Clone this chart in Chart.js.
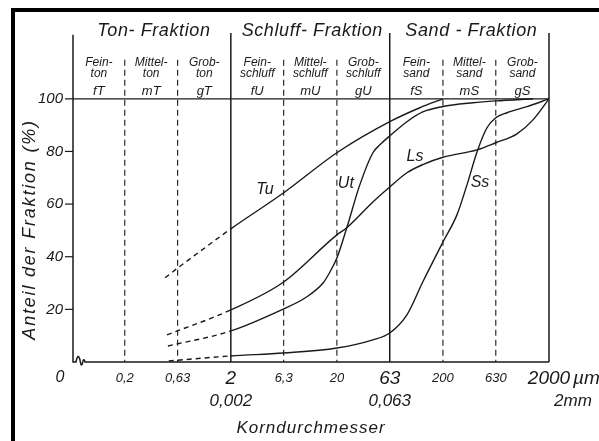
<!DOCTYPE html>
<html>
<head>
<meta charset="utf-8">
<script src="https://cdn.jsdelivr.net/npm/chart.js@4"></script>
<style>
  html, body { margin: 0; padding: 0; background: #fff; }
  #wrap { width: 599px; height: 441px; position: relative; }
</style>
</head>
<body>
<div id="wrap"><canvas id="chart"></canvas></div>
<script>
// grain diameter (µm) and cumulative share (%) for each soil type
const tuSize  = [0.48, 0.63, 1, 2, 6.3, 20, 63, 121, 200];
const tuShare = [32, 35.7, 41.7, 50.6, 64.3, 79.5, 91.3, 96.6, 100];

const utSize  = [0.51, 2, 6.3, 10, 14.8, 17.2, 20, 24.8, 32.9, 43.7, 50.9, 63, 91.5, 129, 196, 384, 630, 1413];
const utShare = [6.1, 11.8, 20.2, 24.3, 30, 34.2, 39.5, 51, 67.3, 79.5, 82.5, 85.9, 91.3, 95, 97, 98.5, 99.2, 100];

const lsSize  = [0.5, 2, 6.3, 20, 24.8, 43.7, 63, 91.5, 129, 200, 419, 630, 998, 1413, 2000];
const lsShare = [10.3, 19.8, 30.4, 48.3, 51, 60.8, 66.5, 71.9, 75, 77.8, 80.6, 83.3, 86.7, 92, 100];

const ssSize  = [0.52, 2, 6.3, 20, 43.7, 63, 91.5, 129, 200, 271, 337, 419, 520, 630, 803, 1239, 2000];
const ssShare = [0.4, 2.3, 3.4, 5.3, 8.4, 11, 17.9, 30.4, 45.6, 55.9, 67.3, 79.8, 89, 92.8, 94.7, 97, 100];

// curve names and where they are written
const curveNames = ['Tu', 'Ut', 'Ls', 'Ss'];
const nameSize   = [4.2, 24.3, 109, 447];
const nameShare  = [65.4, 67.7, 78, 68];

// axes
const xTicks      = [0.2, 0.63, 2, 6.3, 20, 63, 200, 630, 2000];
const xTickLabels = ['0,2', '0,63', '2', '6,3', '20', '63', '200', '630', '2000'];
const xMajor      = [2, 63, 2000];
const xMajorMm    = ['0,002', '0,063', '2mm'];
const yTicks      = [20, 40, 60, 80, 100];

// fractions (main limits) and sub-fractions
const fractionNames = ['Ton- Fraktion', 'Schluff- Fraktion', 'Sand - Fraktion'];
const subNames = [
  ['Fein-', 'ton', 'fT'], ['Mittel-', 'ton', 'mT'], ['Grob-', 'ton', 'gT'],
  ['Fein-', 'schluff', 'fU'], ['Mittel-', 'schluff', 'mU'], ['Grob-', 'schluff', 'gU'],
  ['Fein-', 'sand', 'fS'], ['Mittel-', 'sand', 'mS'], ['Grob-', 'sand', 'gS']
];

const xMin = 0.065, xMax = 2000, yMax = 125;
const ink = '#1a1a1a';
const fam = "'Liberation Sans', Arial, sans-serif";

function curve(label, sizes, shares) {
  return {
    label: label,
    data: sizes.map((s, i) => ({ x: s, y: shares[i] })),
    borderColor: ink,
    borderWidth: 1.4,
    pointRadius: 0,
    fill: false,
    cubicInterpolationMode: 'monotone',
    segment: {
      borderDash: c => c.p1.parsed.x <= 2.01 ? [5, 4] : undefined
    }
  };
}

function spaced(ctx, px) {
  if ('letterSpacing' in ctx) ctx.letterSpacing = px + 'px';
}

const paper = {
  id: 'paper',
  beforeDatasetsDraw(chart) {
    const ctx = chart.ctx;
    const x = chart.scales.x, y = chart.scales.y;
    const left = x.getPixelForValue(xMin);
    const right = x.getPixelForValue(xMax);
    const y0 = y.getPixelForValue(0);

    ctx.save();
    // scan frame
    ctx.fillStyle = '#000';
    ctx.fillRect(11, 8, 599 - 11, 4);
    ctx.fillRect(11, 8, 4, 441 - 8);

    ctx.strokeStyle = ink;
    ctx.lineWidth = 1.5;
    // left axis
    ctx.beginPath();
    ctx.moveTo(left, y.getPixelForValue(124.3));
    ctx.lineTo(left, y0);
    // bottom axis with break mark
    ctx.lineTo(left + 3, y0);
    ctx.quadraticCurveTo(left + 5, y0 - 10, left + 7, y0 - 2);
    ctx.quadraticCurveTo(left + 8, y0 + 6, left + 9.5, y0 + 1);
    ctx.quadraticCurveTo(left + 10.5, y0 - 5, left + 12, y0);
    ctx.lineTo(right, y0);
    ctx.stroke();

    // main fraction limits
    xMajor.forEach(v => {
      const px = x.getPixelForValue(v);
      ctx.beginPath();
      ctx.moveTo(px, y0);
      ctx.lineTo(px, y.getPixelForValue(yMax));
      ctx.stroke();
    });

    // sub-fraction limits, dashed
    ctx.lineWidth = 1.1;
    ctx.setLineDash([6, 4]);
    xTicks.filter(v => xMajor.indexOf(v) < 0).forEach(v => {
      const px = x.getPixelForValue(v);
      ctx.beginPath();
      ctx.moveTo(px, y.getPixelForValue(114.8));
      ctx.lineTo(px, y0);
      ctx.stroke();
    });
    ctx.setLineDash([]);

    // y ticks and 100 % line
    ctx.lineWidth = 1.2;
    yTicks.forEach(v => {
      const py = y.getPixelForValue(v);
      ctx.beginPath();
      ctx.moveTo(left - 8, py);
      ctx.lineTo(v === 100 ? right : left, py);
      ctx.stroke();
    });

    // y tick labels
    ctx.fillStyle = ink;
    ctx.font = 'italic 15px ' + fam;
    ctx.textAlign = 'right';
    ctx.textBaseline = 'middle';
    yTicks.forEach(v => ctx.fillText(String(v), left - 10, y.getPixelForValue(v)));

    // x tick labels
    ctx.textAlign = 'center';
    ctx.font = 'italic 16px ' + fam;
    ctx.fillText('0', left - 13, y0 + 16);
    xTicks.forEach((v, i) => {
      const big = xMajor.indexOf(v) >= 0;
      ctx.font = (big ? 'italic 19px ' : 'italic 13px ') + fam;
      ctx.fillText(xTickLabels[i], x.getPixelForValue(v), y0 + (big ? 17 : 16));
    });
    ctx.textAlign = 'left';
    ctx.font = 'italic 19px ' + fam;
    ctx.fillText('µm', right + 24, y0 + 17);
    ctx.textAlign = 'center';
    ctx.font = 'italic 17px ' + fam;
    xMajor.forEach((v, i) => {
      const px = x.getPixelForValue(v) + (i === 2 ? 24 : 0);
      ctx.fillText(xMajorMm[i], px, y0 + 39);
    });
    spaced(ctx, 1);
    ctx.fillText('Korndurchmesser', (left + right) / 2, y0 + 66);

    // y axis title
    ctx.save();
    ctx.translate(30, y.getPixelForValue(50) - 1);
    ctx.rotate(-Math.PI / 2);
    ctx.font = 'italic 18px ' + fam;
    spaced(ctx, 1.8);
    ctx.fillText('Anteil der Fraktion (%)', 0, 0);
    ctx.restore();

    // fraction headers
    const bounds = [xMin].concat(xMajor);
    ctx.font = 'italic 18px ' + fam;
    spaced(ctx, 0.6);
    fractionNames.forEach((n, i) => {
      const px = (x.getPixelForValue(bounds[i]) + x.getPixelForValue(bounds[i + 1])) / 2;
      ctx.fillText(n, px + 2, 31);
    });
    spaced(ctx, 0);
    const subBounds = [xMin].concat(xTicks);
    subNames.forEach((lines, i) => {
      const px = (x.getPixelForValue(subBounds[i]) + x.getPixelForValue(subBounds[i + 1])) / 2;
      ctx.font = 'italic 12px ' + fam;
      ctx.fillText(lines[0], px, 63);
      ctx.fillText(lines[1], px, 74);
      ctx.font = 'italic 13px ' + fam;
      ctx.fillText(lines[2], px, 91);
    });

    // curve names
    ctx.font = 'italic 16px ' + fam;
    curveNames.forEach((n, i) => {
      ctx.fillText(n, x.getPixelForValue(nameSize[i]), y.getPixelForValue(nameShare[i]));
    });
    ctx.restore();
  }
};

new Chart(document.getElementById('chart'), {
  type: 'line',
  data: {
    datasets: [
      curve('Tu', tuSize, tuShare),
      curve('Ut', utSize, utShare),
      curve('Ls', lsSize, lsShare),
      curve('Ss', ssSize, ssShare)
    ]
  },
  options: {
    responsive: true,
    maintainAspectRatio: false,
    animation: false,
    layout: { padding: { left: 73, right: 50, top: 33, bottom: 79 } },
    plugins: { legend: { display: false }, tooltip: { enabled: false } },
    scales: {
      x: { type: 'logarithmic', min: xMin, max: xMax, display: false },
      y: { type: 'linear', min: 0, max: yMax, display: false }
    }
  },
  plugins: [paper]
});
</script>
</body>
</html>
